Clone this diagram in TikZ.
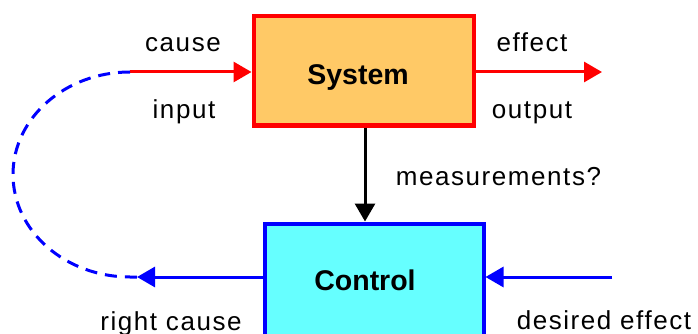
\documentclass[tikz,border=0pt]{standalone}
\usepackage{fontspec}
\setmainfont{Liberation Sans}
\newfontfamily\lblfont[LetterSpace=6]{Liberation Sans}
\usetikzlibrary{arrows.meta}
\definecolor{sysfill}{HTML}{FFC966}
\definecolor{ctlfill}{HTML}{66FFFF}
\tikzset{
  lbl/.style={font=\lblfont\fontsize{26}{30}\selectfont, anchor=base, inner sep=0pt},
  boxtxt/.style={font=\fontsize{28.5}{32}\selectfont\bfseries, anchor=base, inner sep=0pt},
  tip/.style={-{Triangle[length=18pt,width=20pt]}},
  sysbox/.style={draw=red, fill=sysfill, line width=4pt, minimum width=220pt, minimum height=109pt, inner sep=0pt},
  ctlbox/.style={draw=blue, fill=ctlfill, line width=4pt, minimum width=219pt, minimum height=113pt, inner sep=0pt},
}
\begin{document}
\begin{tikzpicture}[x=1pt,y=-1pt]
\useasboundingbox (0,0) rectangle (698,334);
\clip (0,0) rectangle (698,334);
\node[sysbox] (sys) at (363.5,71) {};
\node[ctlbox] (ctl) at (374,280) {};
\node[boxtxt] (systxt) at (358,85) {System};
\node[boxtxt] (ctltxt) at (365,290) {Control};
\coordinate (cin) at (130,72);
\coordinate (cout) at (602,72);
\coordinate (des) at (612,277);
\coordinate (rc) at (137,277);
\draw[red, line width=3pt, tip] (cin) -- (sys.west |- cin);
\draw[red, line width=3pt, tip] (sys.east |- cout) -- (cout);
\draw[black, line width=3pt, tip] (sys.south -| 365,0) -- (ctl.north -| 365,0);
\draw[blue, line width=3pt, tip] (des) -- (ctl.east |- des);
\draw[blue, line width=3pt, tip] (ctl.west |- rc) -- (rc);
\draw[blue, line width=3pt, dash pattern=on 12pt off 8pt] (cin) arc[start angle=270, end angle=90, x radius=117, y radius=102.5] -- (rc);
\node[lbl] (l1) at (183,52) {cause};
\node[lbl] (l2) at (184,118) {input};
\node[lbl] (l3) at (532,52) {effect};
\node[lbl] (l4) at (532,118) {output};
\node[lbl] (l5) at (498.5,185) {measurements?};
\node[lbl] (l6) at (171,330) {right cause};
\node[lbl] (l7) at (604,329) {desired effect};
\end{tikzpicture}
\end{document}
